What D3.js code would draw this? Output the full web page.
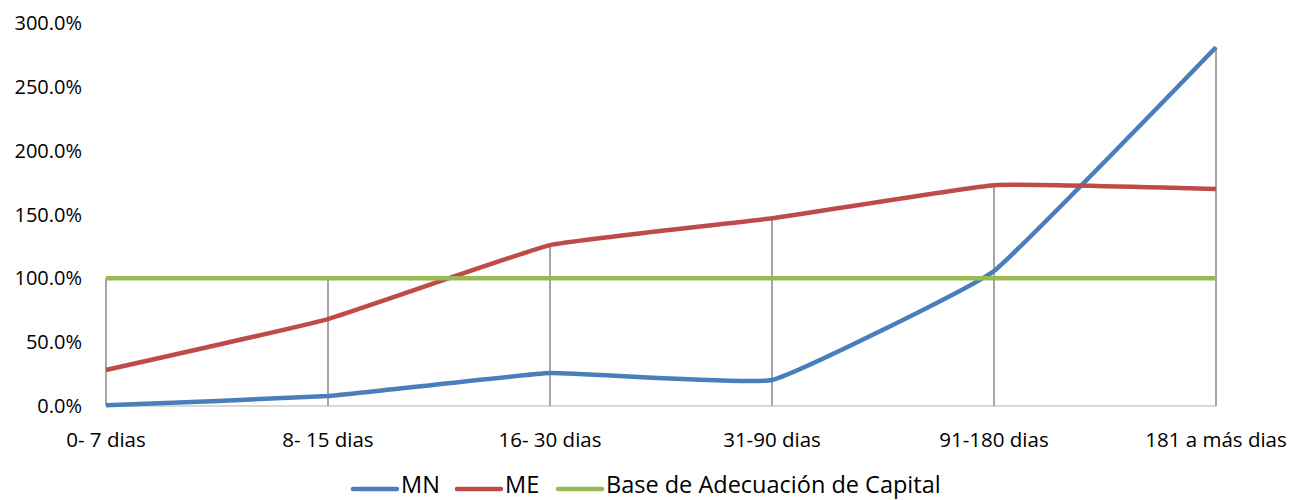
<!DOCTYPE html>
<html>
<head>
<meta charset="utf-8">
<script src="https://cdn.jsdelivr.net/npm/d3@7"></script>
<style>
  body { margin: 0; background: #fff; }
  text { font-family: "Open Sans", "Noto Sans", sans-serif; fill: #000; }
</style>
</head>
<body>
<script>
const categories = ["0- 7 dias", "8- 15 dias", "16- 30 dias", "31-90 dias", "91-180 dias", "181 a más dias"];
const mn = [0.5, 7.8, 25.8, 20.4, 105.8, 281];
const me = [28.2, 68.1, 126, 147, 173, 170];
const base = [100, 100, 100, 100, 100, 100];
const yTicks = [0, 50, 100, 150, 200, 250, 300];

const series = [
  { name: "MN", values: mn, color: "#4a7ebb" },
  { name: "ME", values: me, color: "#be4b48" },
  { name: "Base de Adecuación de Capital", values: base, color: "#98b954" }
];

const width = 1291, height = 500;
const svg = d3.select("body").append("svg")
  .attr("width", width)
  .attr("height", height);

const x = d3.scalePoint().domain(categories).range([106, 1216]);
const y = d3.scaleLinear().domain([0, 300]).range([406, 23]);

// y tick labels
svg.append("g").selectAll("text")
  .data(yTicks)
  .join("text")
  .attr("x", 82)
  .attr("y", d => y(d))
  .attr("dy", "0.35em")
  .attr("text-anchor", "end")
  .attr("font-size", 20)
  .text(d => d.toFixed(1) + "%");

// x axis line
svg.append("line")
  .attr("x1", x(categories[0])).attr("x2", x(categories[categories.length - 1]))
  .attr("y1", y(0)).attr("y2", y(0))
  .attr("stroke", "#d9d9d9").attr("stroke-width", 2);

// drop lines from highest point
svg.append("g").selectAll("line")
  .data(categories)
  .join("line")
  .attr("x1", d => x(d)).attr("x2", d => x(d))
  .attr("y1", (d, i) => y(d3.max(series, s => s.values[i])))
  .attr("y2", y(0))
  .attr("stroke", "#a6a6a6").attr("stroke-width", 2);

// x labels
svg.append("g").selectAll("text")
  .data(categories)
  .join("text")
  .attr("x", d => x(d))
  .attr("y", 440)
  .attr("dy", "0.35em")
  .attr("text-anchor", "middle")
  .attr("font-size", 20.5)
  .text(d => d);

const line = d3.line()
  .x((d, i) => x(categories[i]))
  .y(d => y(d))
  .curve(d3.curveCardinal.tension(0.7));

svg.append("g").selectAll("path")
  .data(series)
  .join("path")
  .attr("d", d => line(d.values))
  .attr("fill", "none")
  .attr("stroke", d => d.color)
  .attr("stroke-width", 4.5);

// legend
const legendX = [353, 457, 558];
const lg = svg.append("g").selectAll("g")
  .data(series)
  .join("g")
  .attr("transform", (d, i) => `translate(${legendX[i]},489)`);
lg.append("line")
  .attr("x1", 0).attr("x2", 44)
  .attr("stroke", d => d.color)
  .attr("stroke-width", 4.5)
  .attr("stroke-linecap", "round");
lg.append("text")
  .attr("x", 48)
  .attr("y", 4)
  .attr("font-size", 23.5)
  .text(d => d.name);
</script>
</body>
</html>
